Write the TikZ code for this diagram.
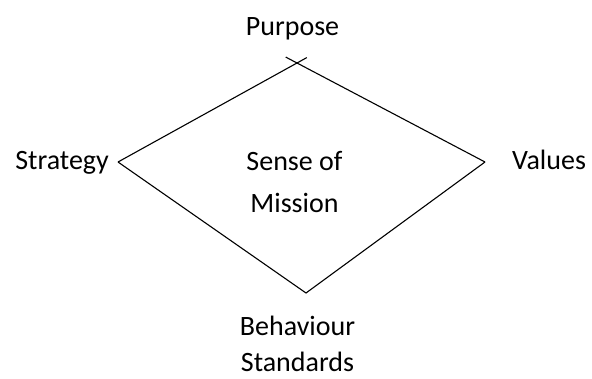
\documentclass[tikz,border=0pt]{standalone}
\usepackage{fontspec}
\setmainfont{Carlito}
\usetikzlibrary{calc,positioning}

\begin{document}
\begin{tikzpicture}[x=1pt,y=-1pt,every node/.style={label},
  label/.style={font=\fontsize{28}{32}\selectfont,inner sep=0pt,anchor=base},
  edge/.style={line width=1.1pt}]

        \useasboundingbox (0,0) rectangle (592,378);

        \coordinate (L) at (118,162);
        \coordinate (T) at (297,63);
        \coordinate (R) at (485,162);
        \coordinate (B) at (306,293);

        \node (purpose) at (292.5,35) {Purpose};
        \node (strategy) [anchor=base east] at (109,169) {Strategy};
        \node (values) [anchor=base west] at (512,169) {Values};
        \node (sense) at (294.5,170.5) {Sense of};
        \node (mission) at ($(sense.base)+(0,42)$) {Mission};
        \node (behaviour) at (297.5,335) {Behaviour};
        \node (standards) at ($(behaviour.base)+(0,36.5)$) {Standards};

        \draw[edge] (L) -- ($(L)!1.055!(T)$);
        \draw[edge] (R) -- ($(R)!1.06!(T)$);
        \draw[edge] (L) -- (B) -- (R);
\end{tikzpicture}
\end{document}
